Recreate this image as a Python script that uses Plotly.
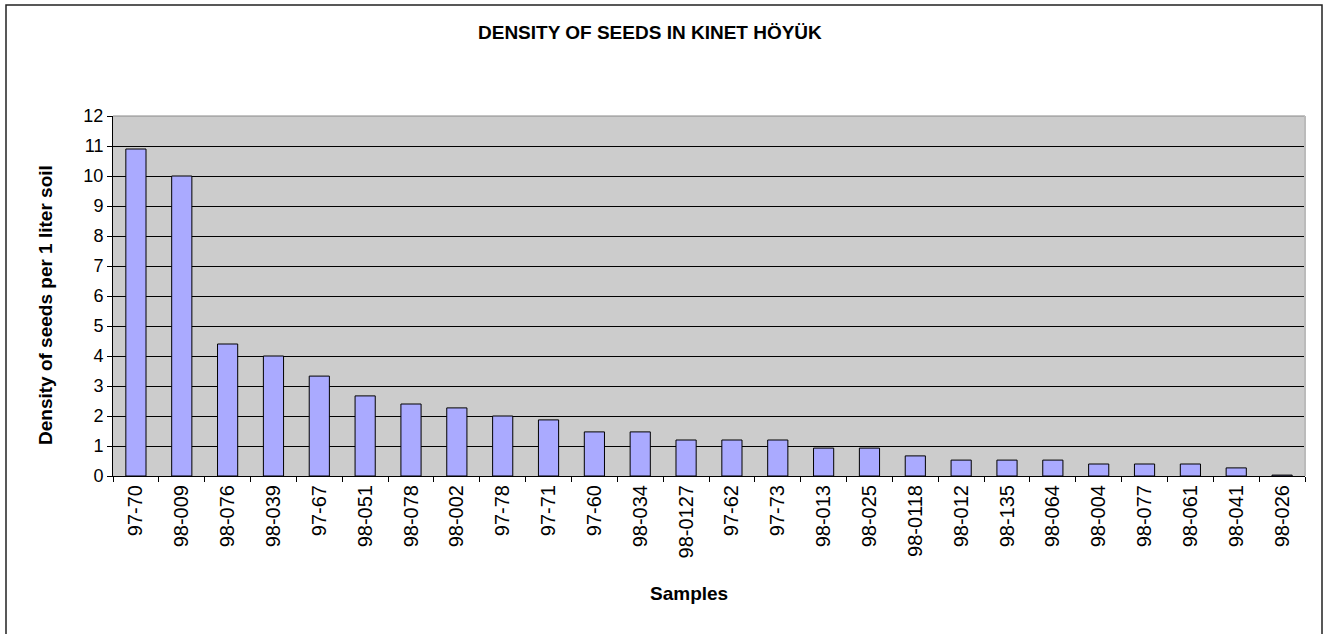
import plotly.graph_objects as go

samples = ["97-70", "98-009", "98-076", "98-039", "97-67", "98-051", "98-078", "98-002",
           "97-78", "97-71", "97-60", "98-034", "98-0127", "97-62", "97-73", "98-013",
           "98-025", "98-0118", "98-012", "98-135", "98-064", "98-004", "98-077", "98-061",
           "98-041", "98-026"]
density = [10.9, 10.0, 4.4, 4.0, 3.33, 2.67, 2.4, 2.27, 2.0, 1.87, 1.47, 1.47, 1.2, 1.2,
           1.2, 0.93, 0.93, 0.67, 0.53, 0.53, 0.53, 0.4, 0.4, 0.4, 0.27, 0.03]
y_ticks = list(range(0, 13))

W, H = 1325, 634
L, R, T, B = 113, 20, 116, 158
pw, ph = W - L - R, H - T - B

def px(x):
    return (x - L) / pw

def py(y):
    return 1 - (y - T) / ph

fig = go.Figure(go.Bar(
    x=samples, y=density,
    marker=dict(color="#AAAAFF", line=dict(color="black", width=1)),
    width=0.44,
))

font = "Liberation Sans, Arial, sans-serif"
fig.update_layout(
    width=W, height=H,
    margin=dict(l=L, r=R, t=T, b=B),
    paper_bgcolor="white",
    plot_bgcolor="#CCCCCC",
    showlegend=False,
    font=dict(family=font, size=14, color="black"),
    xaxis=dict(
        type="category", tickangle=-90, ticks="outside", ticklen=5, tickcolor="black",
        tickson="boundaries",
        showline=True, linecolor="black", linewidth=1, showgrid=False,
        tickfont=dict(size=20),
    ),
    yaxis=dict(
        range=[0, 12], tickvals=y_ticks, ticks="outside", ticklen=5, tickcolor="black",
        showline=True, linecolor="black", linewidth=1,
        showgrid=True, gridcolor="black", gridwidth=1, zeroline=False,
        tickfont=dict(size=18),
    ),
    annotations=[
        dict(text="<b>DENSITY OF SEEDS IN KINET HÖYÜK</b>", xref="paper", yref="paper",
             x=px(650), y=py(33), xanchor="center", yanchor="middle", showarrow=False,
             font=dict(family=font, size=19, color="black")),
        dict(text="<b>Samples</b>", xref="paper", yref="paper",
             x=px(689), y=py(593), xanchor="center", yanchor="middle", showarrow=False,
             font=dict(family=font, size=19, color="black")),
        dict(text="<b>Density of seeds per 1 liter soil</b>", xref="paper", yref="paper",
             x=px(45), y=py(305), xanchor="center", yanchor="middle", showarrow=False,
             textangle=-90, font=dict(family=font, size=19, color="black")),
    ],
    shapes=[
        dict(type="rect", xref="paper", yref="paper",
             x0=px(6), x1=px(1322), y0=py(650), y1=py(5),
             line=dict(color="#222222", width=1.5), layer="below"),
        dict(type="line", xref="paper", yref="paper", x0=0, x1=1, y0=1, y1=1,
             line=dict(color="#888888", width=1)),
        dict(type="line", xref="paper", yref="paper", x0=1, x1=1, y0=0, y1=1,
             line=dict(color="#BBBBBB", width=2)),
    ],
)

fig.write_html("out.html", config={"displayModeBar": False},
               post_script="document.body.style.margin='0';document.body.style.overflow='hidden';")
